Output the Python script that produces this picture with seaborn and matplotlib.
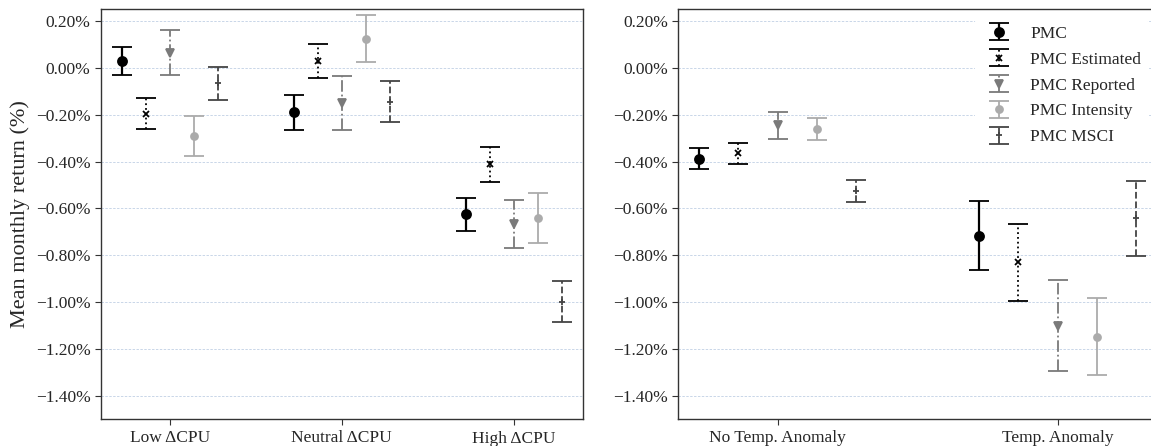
import numpy as np
import seaborn as sns
import matplotlib
matplotlib.use("Agg")
import matplotlib.pyplot as plt
from matplotlib.ticker import FuncFormatter
from matplotlib.transforms import ScaledTranslation

# Datos (retorno mensual medio en %, +/- error)
cpu_labels = ["Low \u0394CPU", "Neutral \u0394CPU", "High \u0394CPU"]
temp_labels = ["No Temp. Anomaly", "Temp. Anomaly"]
series_names = ["PMC", "PMC Estimated", "PMC Reported", "PMC Intensity", "PMC MSCI"]

cpu_pmc = [0.030, -0.190, -0.625]
cpu_pmc_err = [0.060, 0.075, 0.070]
cpu_est = [-0.195, 0.030, -0.412]
cpu_est_err = [0.065, 0.073, 0.073]
cpu_rep = [0.065, -0.150, -0.665]
cpu_rep_err = [0.095, 0.114, 0.103]
cpu_int = [-0.290, 0.125, -0.642]
cpu_int_err = [0.085, 0.100, 0.107]
cpu_msci = [-0.065, -0.145, -0.998]
cpu_msci_err = [0.070, 0.087, 0.088]

temp_pmc = [-0.388, -0.717]
temp_pmc_err = [0.044, 0.147]
temp_est = [-0.365, -0.830]
temp_est_err = [0.046, 0.165]
temp_rep = [-0.245, -1.100]
temp_rep_err = [0.057, 0.194]
temp_int = [-0.262, -1.148]
temp_int_err = [0.046, 0.165]
temp_msci = [-0.527, -0.641]
temp_msci_err = [0.047, 0.160]

# Estilo de cada serie
styles = [
    dict(color="black", marker="o", ms=6.5, ls="-", lw=1.6),
    dict(color="black", marker="x", ms=5, ls=":", lw=1.3),
    dict(color="#7a7a7a", marker="v", ms=6, ls="-.", lw=1.3),
    dict(color="#ababab", marker="o", ms=5, ls="-", lw=1.3),
    dict(color="#444444", marker="+", ms=5, ls="--", lw=1.3),
]
offsets = [-0.28, -0.14, 0.0, 0.14, 0.28]


def pct(v, pos):
    v = round(v, 2) + 0.0
    return f"{v:.2f}%".replace("-", "\u2212")


sns.set_style("ticks")
plt.rcParams["font.family"] = ["Liberation Serif", "DejaVu Serif"]

fig = plt.figure(figsize=(11.51, 4.46), dpi=100)
ax1 = fig.add_axes([0.0877, 0.0599, 0.4186, 0.9192])
ax2 = fig.add_axes([0.5893, 0.0599, 0.4159, 0.9192])


def panel(ax, labels, means, errs):
    x = np.arange(len(labels))
    handles = []
    for m, e, off, st in zip(means, errs, offsets, styles):
        eb = ax.errorbar(x + off, m, yerr=e, fmt=st["marker"], color=st["color"],
                         ms=st["ms"], mew=1.3, capsize=7.5, elinewidth=st["lw"],
                         capthick=st["lw"], zorder=3)
        eb[2][0].set_linestyle(st["ls"])
        handles.append(eb)
    ax.set_xticks(x)
    ax.set_xticklabels(labels, fontsize=12.5)
    ax.set_ylim(-1.5, 0.25)
    ax.set_yticks(np.arange(-1.4, 0.21, 0.2))
    ax.yaxis.set_major_formatter(FuncFormatter(pct))
    ax.tick_params(axis="y", labelsize=12.5, length=4, color="0.2")
    ax.tick_params(axis="x", length=4, color="0.2")
    ax.yaxis.grid(True, color="#c9d6e8", linestyle=(0, (2.5, 1.5)), linewidth=0.7, zorder=0)
    for sp in ax.spines.values():
        sp.set_color("0.2")
        sp.set_linewidth(1.0)
    return handles


panel(ax1, cpu_labels,
      [cpu_pmc, cpu_est, cpu_rep, cpu_int, cpu_msci],
      [cpu_pmc_err, cpu_est_err, cpu_rep_err, cpu_int_err, cpu_msci_err])
ax1.set_xlim(-0.4, 2.4)
ax1.set_ylabel("Mean monthly return (%)", fontsize=16, labelpad=4)

# la etiqueta "High" aparece un poco mas abajo en el original
high_lbl = ax1.get_xticklabels()[2]
high_lbl.set_transform(high_lbl.get_transform() + ScaledTranslation(0, -1 / 72, fig.dpi_scale_trans))

hs = panel(ax2, temp_labels,
           [temp_pmc, temp_est, temp_rep, temp_int, temp_msci],
           [temp_pmc_err, temp_est_err, temp_rep_err, temp_int_err, temp_msci_err])
ax2.set_xlim(-0.355, 1.355)

leg = ax2.legend(hs, series_names, loc="upper left", bbox_to_anchor=(0.847, 0.958),
                 bbox_transform=fig.transFigure, fontsize=12.5, frameon=True,
                 framealpha=1, edgecolor="white", labelspacing=0.56, borderaxespad=0)
leg.get_frame().set_linewidth(0)

fig.savefig("out.png", dpi=100)
